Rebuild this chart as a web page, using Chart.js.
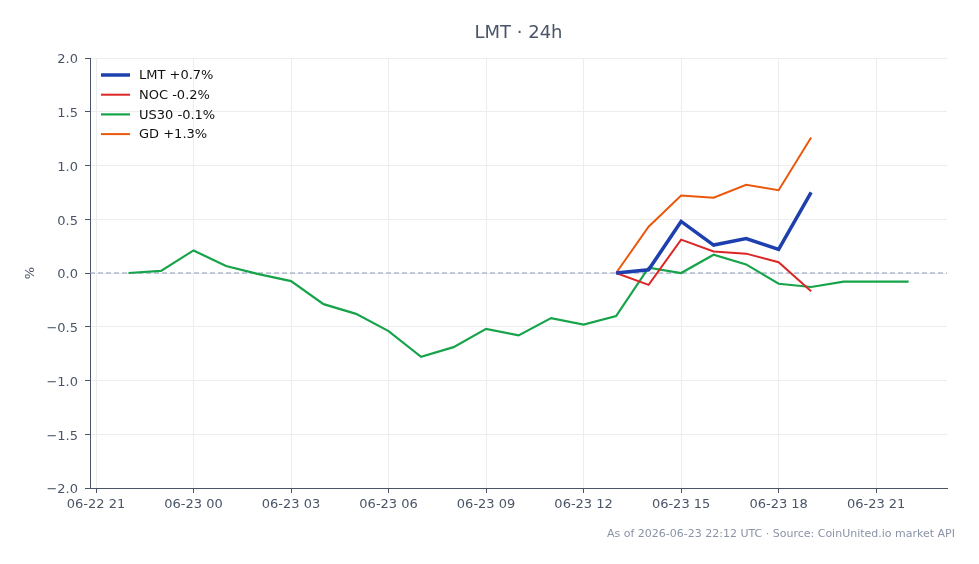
<!DOCTYPE html>
<html>
<head>
<meta charset="utf-8">
<script src="https://cdn.jsdelivr.net/npm/chart.js@4.4.1/dist/chart.umd.min.js"></script>
<style>
  html, body { margin: 0; padding: 0; background: #fff; }
  #wrap { width: 979px; height: 564px; }
</style>
</head>
<body>
<div id="wrap"><canvas id="c" width="979" height="564"></canvas></div>
<script>
// hours since 06-22 21:00 UTC
const US30_HOURS = [1, 2, 3, 4, 5, 6, 7, 8, 9, 10, 11, 12, 13, 14, 15, 16, 17, 18, 19, 20, 21, 22, 23, 24, 25];
const US30_VALUES = [0.00, 0.02, 0.21, 0.065, -0.01, -0.075, -0.29, -0.38, -0.54, -0.78, -0.69, -0.52, -0.58, -0.42, -0.48, -0.40, 0.05, 0.00, 0.17, 0.08, -0.10, -0.13, -0.08, -0.08, -0.08];

const PEER_HOURS = [16, 17, 18, 19, 20, 21, 22];
const LMT_VALUES = [0.00, 0.03, 0.48, 0.26, 0.32, 0.22, 0.75];
const NOC_VALUES = [0.00, -0.11, 0.31, 0.20, 0.18, 0.10, -0.17];
const GD_VALUES = [0.00, 0.43, 0.72, 0.70, 0.82, 0.77, 1.26];

const X_TICKS = [0, 3, 6, 9, 12, 15, 18, 21, 24];
const X_TICK_LABELS = ['06-22 21', '06-23 00', '06-23 03', '06-23 06', '06-23 09', '06-23 12', '06-23 15', '06-23 18', '06-23 21'];
const Y_TICKS = [-2, -1.5, -1, -0.5, 0, 0.5, 1, 1.5, 2];

const X_MIN = -0.185;
const X_MAX = 26.18;

const COLORS = {
    lmt: '#1e40af',
    noc: '#dc2626',
    us30: '#16a34a',
    gd: '#ea580c',
    text: '#4a5568',
    grid: '#ebedf0',
    zero: '#8c9cb8',
    foot: '#8a94a6',
};

const FONT = '"DejaVu Sans", sans-serif';

const toPoints = (xs, ys) => xs.map((x, i) => ({x: x, y: ys[i]}));

const datasets = [
    {label: 'LMT +0.7%', data: toPoints(PEER_HOURS, LMT_VALUES), borderColor: COLORS.lmt, borderWidth: 3.5},
    {label: 'NOC -0.2%', data: toPoints(PEER_HOURS, NOC_VALUES), borderColor: COLORS.noc, borderWidth: 2},
    {label: 'US30 -0.1%', data: toPoints(US30_HOURS, US30_VALUES), borderColor: COLORS.us30, borderWidth: 2.2},
    {label: 'GD +1.3%', data: toPoints(PEER_HOURS, GD_VALUES), borderColor: COLORS.gd, borderWidth: 2},
    {label: 'zero', data: [{x: X_MIN, y: 0}, {x: X_MAX, y: 0}], borderColor: COLORS.zero, borderWidth: 1, borderDash: [5, 3], hidden_legend: true, order: 10},
];

// title, y label, legend and footer
const decorPlugin = {
    id: 'decor',
    afterDraw(chart) {
        const ctx = chart.ctx;
        const area = chart.chartArea;
        ctx.save();

        ctx.fillStyle = COLORS.text;
        ctx.font = '18px ' + FONT;
        ctx.textAlign = 'center';
        ctx.textBaseline = 'middle';
        ctx.fillText('LMT · 24h', (area.left + area.right) / 2, 33);

        ctx.save();
        ctx.translate(31, (area.top + area.bottom) / 2);
        ctx.rotate(-Math.PI / 2);
        ctx.font = '13px ' + FONT;
        ctx.fillText('%', 0, 0);
        ctx.restore();

        let y = 75;
        ctx.font = '13px ' + FONT;
        ctx.textAlign = 'left';
        for (const ds of chart.data.datasets) {
            if (ds.hidden_legend) continue;
            ctx.strokeStyle = ds.borderColor;
            ctx.lineWidth = ds.borderWidth;
            ctx.beginPath();
            ctx.moveTo(101, y);
            ctx.lineTo(130, y);
            ctx.stroke();
            ctx.fillStyle = '#111';
            ctx.fillText(ds.label, 139, y + 1);
            y += 19.7;
        }

        ctx.fillStyle = COLORS.foot;
        ctx.font = '11px ' + FONT;
        ctx.textAlign = 'right';
        ctx.fillText('As of 2026-06-23 22:12 UTC · Source: CoinUnited.io market API', 955, 534);
        ctx.restore();
    }
};

new Chart(document.getElementById('c'), {
    type: 'line',
    data: {datasets: datasets},
    plugins: [decorPlugin],
    options: {
        responsive: false,
        animation: false,
        layout: {padding: {left: 0, top: 58, right: 32, bottom: 0}},
        elements: {
            point: {radius: 0},
            line: {tension: 0, fill: false},
        },
        plugins: {
            legend: {display: false},
            tooltip: {enabled: false},
        },
        scales: {
            x: {
                type: 'linear',
                min: X_MIN,
                max: X_MAX,
                afterFit: (scale) => { scale.height = 76; },
                afterBuildTicks: (scale) => { scale.ticks = X_TICKS.map(v => ({value: v})); },
                grid: {color: COLORS.grid, lineWidth: 1, tickColor: COLORS.text, tickLength: 5},
                border: {color: COLORS.text, width: 1},
                ticks: {
                    color: COLORS.text,
                    font: {family: FONT, size: 13},
                    maxRotation: 0,
                    padding: 4,
                    callback: (v) => {
                        const i = X_TICKS.indexOf(v);
                        return i >= 0 ? X_TICK_LABELS[i] : '';
                    },
                },
            },
            y: {
                min: -2,
                max: 2,
                afterFit: (scale) => { scale.width = 90; },
                afterBuildTicks: (scale) => { scale.ticks = Y_TICKS.map(v => ({value: v})); },
                grid: {color: COLORS.grid, lineWidth: 1, tickColor: COLORS.text, tickLength: 5},
                border: {color: COLORS.text, width: 1},
                ticks: {
                    color: COLORS.text,
                    font: {family: FONT, size: 13},
                    padding: 7,
                    labelOffset: 2,
                    callback: (v) => v.toFixed(1).replace('-', '\u2212'),
                },
            },
        },
    },
});
</script>
</body>
</html>
